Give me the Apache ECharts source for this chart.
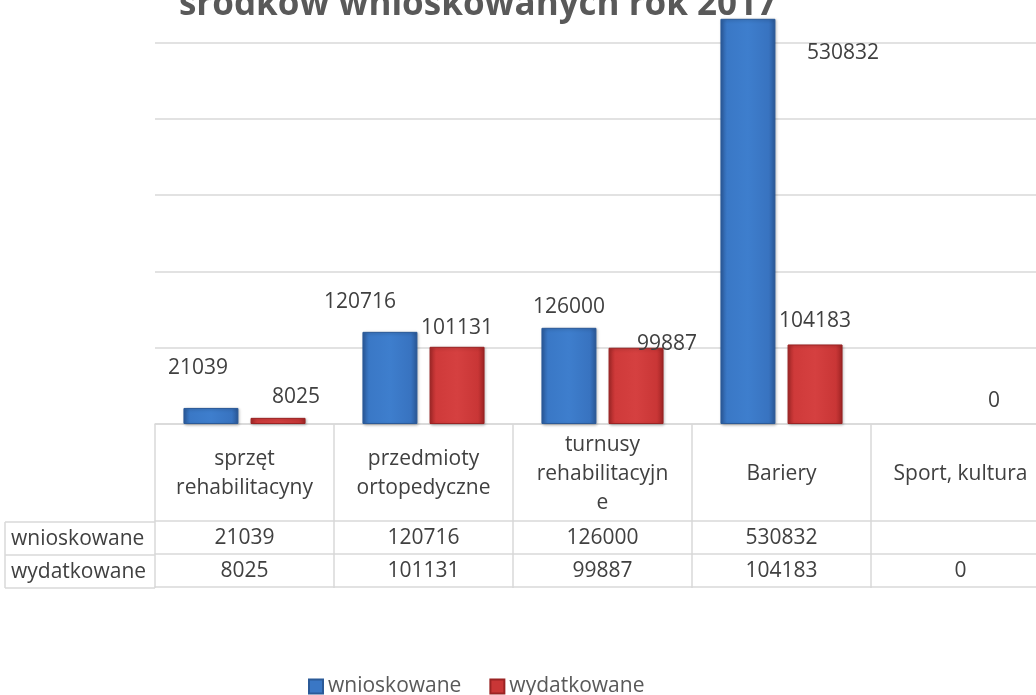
<!DOCTYPE html>
<html>
<head>
<meta charset="utf-8">
<script src="https://cdn.jsdelivr.net/npm/echarts@6/dist/echarts.min.js"></script>
<style>html,body{margin:0;padding:0;background:#fff}#c{width:1036px;height:695px}</style>
</head>
<body>
<div id="c"></div>
<script>
var categories = ['sprzęt\nrehabilitacyny', 'przedmioty\nortopedyczne', 'turnusy\nrehabilitacyjn\ne', 'Bariery', 'Sport, kultura'];
var wnioskowane = [21039, 120716, 126000, 530832, null];
var wydatkowane = [8025, 101131, 99887, 104183, 0];
var seriesNames = ['wnioskowane', 'wydatkowane'];
var titleText = 'środków wnioskowanych rok 2017';

// label nudges (style only)
var nudgeW = [[-13, -24], [-30, -14], [0, -5], [95, 50], [0, 0]];
var nudgeR = [[18, -5], [0, -3], [31, 12], [0, -8], [0, -7]];

var FONT = 'Open Sans';
var TXT = '#404040';
var LINE = '#d9d9d9';
var FS = 21;

function grad(c) {
  return new echarts.graphic.LinearGradient(0, 0, 1, 0, [
    {offset: 0, color: c[0]}, {offset: 0.12, color: c[1]},
    {offset: 0.5, color: c[2]}, {offset: 0.88, color: c[3]}, {offset: 1, color: c[4]}
  ]);
}
var blue = grad(['#2c5d9f', '#3a78c6', '#3e7ecd', '#3873c0', '#2a5795']);
var red = grad(['#a82828', '#cf3a3a', '#d54040', '#c93636', '#9e2424']);

function mk(vals, nudges) {
  return vals.map(function (v, i) {
    var d = {value: v, label: {offset: nudges[i]}};
    if (v === 0) d.itemStyle = {color: 'rgba(0,0,0,0)', borderWidth: 0, shadowBlur: 0, shadowColor: 'rgba(0,0,0,0)'};
    return d;
  });
}

var chart = echarts.init(document.getElementById('c'));
var fmtRow = function (arr) {
  return function (val, idx) { return arr[idx] === null ? '' : String(arr[idx]); };
};
var rowLabel = {fontFamily: FONT, fontSize: FS, color: TXT, verticalAlign: 'middle', interval: 0};

chart.setOption({
  animation: false,
  textStyle: {fontFamily: FONT},
  grid: {left: 155, right: -14, top: -34, bottom: 271, outerBoundsMode: 'none', containLabel: false},
  yAxis: {
    type: 'value', min: 0, max: 600000, interval: 100000,
    axisLabel: {show: false}, axisLine: {show: false}, axisTick: {show: false},
    splitLine: {lineStyle: {color: LINE, width: 1.5}}
  },
  xAxis: [
    {
      type: 'category', data: categories, position: 'bottom',
      axisLine: {lineStyle: {color: LINE, width: 1.5}},
      axisTick: {show: true, interval: 0, length: 164, lineStyle: {color: LINE, width: 1.5}},
      axisLabel: {interval: 0, fontFamily: FONT, fontSize: FS, color: TXT, lineHeight: 29, margin: 50, verticalAlign: 'middle'}
    },
    {
      type: 'category', data: categories, position: 'bottom', offset: 97,
      axisLine: {lineStyle: {color: LINE, width: 1.5}}, axisTick: {show: false},
      axisLabel: Object.assign({}, rowLabel, {margin: 17, formatter: fmtRow(wnioskowane)})
    },
    {
      type: 'category', data: categories, position: 'bottom', offset: 130,
      axisLine: {lineStyle: {color: LINE, width: 1.5}}, axisTick: {show: false},
      axisLabel: Object.assign({}, rowLabel, {margin: 17, formatter: fmtRow(wydatkowane)})
    },
    {
      type: 'category', data: categories, position: 'bottom', offset: 163,
      axisLine: {lineStyle: {color: LINE, width: 1.5}}, axisTick: {show: false},
      axisLabel: {show: false}
    }
  ],
  legend: {
    left: 303, top: 671, itemWidth: 14, itemHeight: 14, itemGap: 28, icon: 'rect',
    textStyle: {fontFamily: FONT, fontSize: FS, color: '#595959'},
    data: [{name: seriesNames[0], itemStyle: {color: '#3a77c5'}}, {name: seriesNames[1], itemStyle: {color: '#c93636'}}]
  },
  series: [
    {
      name: seriesNames[0], type: 'bar', data: mk(wnioskowane, nudgeW),
      barWidth: 55, barGap: '22%',
      itemStyle: {color: blue, borderColor: '#2b5a98', borderWidth: 1, shadowColor: 'rgba(0,0,0,0.25)', shadowBlur: 3, shadowOffsetX: 1, shadowOffsetY: 1},
      label: {show: true, position: 'top', fontFamily: FONT, fontSize: FS, color: TXT}
    },
    {
      name: seriesNames[1], type: 'bar', data: mk(wydatkowane, nudgeR),
      barWidth: 55,
      itemStyle: {color: red, borderColor: '#9a2323', borderWidth: 1, shadowColor: 'rgba(0,0,0,0.25)', shadowBlur: 3, shadowOffsetX: 1, shadowOffsetY: 1},
      label: {show: true, position: 'top', fontFamily: FONT, fontSize: FS, color: TXT}
    }
  ],
  graphic: [
    {type: 'text', x: 478, y: 5, style: {text: titleText, fontFamily: FONT, fontWeight: 'bold', fontSize: 35, fill: '#595959', textAlign: 'center', textVerticalAlign: 'middle'}},
    {type: 'line', shape: {x1: 5, y1: 522, x2: 155, y2: 522}, style: {stroke: LINE, lineWidth: 1.5}},
    {type: 'line', shape: {x1: 5, y1: 555, x2: 155, y2: 555}, style: {stroke: LINE, lineWidth: 1.5}},
    {type: 'line', shape: {x1: 5, y1: 588, x2: 155, y2: 588}, style: {stroke: LINE, lineWidth: 1.5}},
    {type: 'line', shape: {x1: 5, y1: 522, x2: 5, y2: 588}, style: {stroke: LINE, lineWidth: 1.5}},
    {type: 'text', x: 11, y: 539, style: {text: seriesNames[0], fontFamily: FONT, fontSize: FS, fill: TXT, textVerticalAlign: 'middle'}},
    {type: 'text', x: 11, y: 572, style: {text: seriesNames[1], fontFamily: FONT, fontSize: FS, fill: TXT, textVerticalAlign: 'middle'}}
  ]
});
</script>
</body>
</html>
